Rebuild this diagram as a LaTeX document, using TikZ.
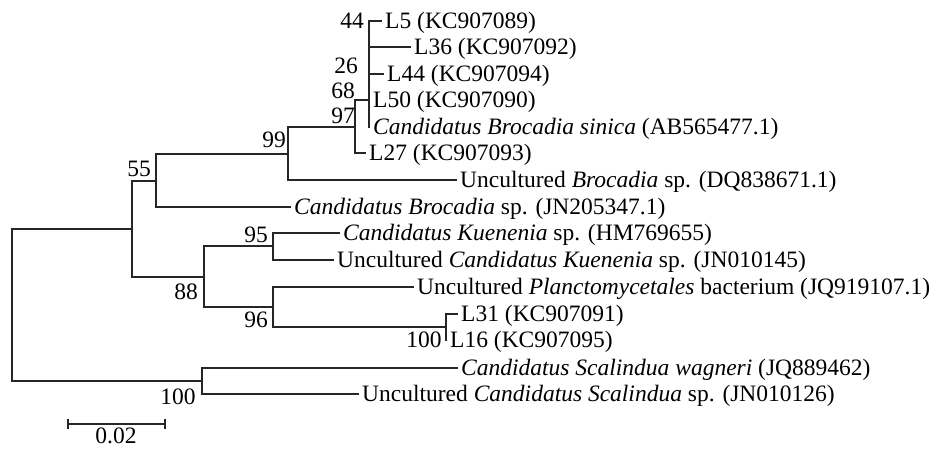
\documentclass[tikz,border=0pt]{standalone}
\usepackage{fontspec}
\setmainfont{Liberation Serif}
\begin{document}
\begin{tikzpicture}[x=1pt,y=-1pt,
  font=\fontsize{23.5}{27}\selectfont,
  branch/.style={draw=black!85, line width=1.2pt, line cap=rect},
  leaf/.style={anchor=base west, inner sep=0pt, xshift=4pt, yshift=-7.8pt},
  boot/.style={anchor=base, inner sep=0pt, yshift=-7.8pt}]
\useasboundingbox (0,0) rectangle (947,448);
% internal nodes
\coordinate (root) at (12,305);
\coordinate (nA) at (132,229);
\coordinate (n55) at (156,181);
\coordinate (n99) at (288,154);
\coordinate (n97) at (355,127);
\coordinate (n68) at (369,100);
\coordinate (n88) at (204,277);
\coordinate (n95) at (273,246);
\coordinate (n96) at (273,307);
\coordinate (n100a) at (446,327);
\coordinate (n100b) at (202,381);
% leaves
\coordinate (l0) at (381,21);
\coordinate (l1) at (410,47);
\coordinate (l2) at (383,74);
\coordinate (l3) at (369,100);
\coordinate (l4) at (369,127);
\coordinate (l5) at (365,153);
\coordinate (l6) at (456,180);
\coordinate (l7) at (290,207);
\coordinate (l8) at (339,233);
\coordinate (l9) at (333,260);
\coordinate (l10) at (413,287);
\coordinate (l11) at (457,314);
\coordinate (l12) at (446,340);
\coordinate (l13) at (457,368);
\coordinate (l14) at (358,394);
% branches
\draw[branch] (root) |- (nA);
\draw[branch] (root) |- (n100b);
\draw[branch] (nA) |- (n55);
\draw[branch] (nA) |- (n88);
\draw[branch] (n55) |- (n99);
\draw[branch] (n55) |- (l7);
\draw[branch] (n99) |- (n97);
\draw[branch] (n99) |- (l6);
\draw[branch] (n97) |- (n68);
\draw[branch] (n97) |- (l5);
\draw[branch] (n68) |- (l0);
\draw[branch] (n68) |- (l1);
\draw[branch] (n68) |- (l2);
\draw[branch] (n68) |- (l4);
\draw[branch] (n88) |- (n95);
\draw[branch] (n88) |- (n96);
\draw[branch] (n95) |- (l8);
\draw[branch] (n95) |- (l9);
\draw[branch] (n96) |- (l10);
\draw[branch] (n96) |- (n100a);
\draw[branch] (n100a) |- (l11);
\draw[branch] (n100a) |- (l12);
\draw[branch] (n100b) |- (l13);
\draw[branch] (n100b) |- (l14);
% leaf labels
\node[leaf] (t0) at (l0) {L5 (KC907089)};
\node[leaf] (t1) at (l1) {L36 (KC907092)};
\node[leaf] (t2) at (l2) {L44 (KC907094)};
\node[leaf] (t3) at (l3) {L50 (KC907090)};
\node[leaf] (t4) at (l4) {\textit{Candidatus Brocadia sinica} (AB565477.1)};
\node[leaf] (t5) at (l5) {L27 (KC907093)};
\node[leaf] (t6) at (l6) {Uncultured \textit{Brocadia} sp. (DQ838671.1)};
\node[leaf] (t7) at (l7) {\textit{Candidatus Brocadia} sp. (JN205347.1)};
\node[leaf] (t8) at (l8) {\textit{Candidatus Kuenenia} sp. (HM769655)};
\node[leaf] (t9) at (l9) {Uncultured \textit{Candidatus Kuenenia} sp. (JN010145)};
\node[leaf] (t10) at (l10) {Uncultured \textit{Planctomycetales} bacterium (JQ919107.1)};
\node[leaf] (t11) at (l11) {L31 (KC907091)};
\node[leaf] (t12) at (l12) {L16 (KC907095)};
\node[leaf] (t13) at (l13) {\textit{Candidatus Scalindua wagneri} (JQ889462)};
\node[leaf] (t14) at (l14) {Uncultured \textit{Candidatus Scalindua} sp. (JN010126)};
% bootstrap values
\node[boot] (b44) at (352,21) {44};
\node[boot] (b26) at (346,66) {26};
\node[boot] (b68) at (343,91) {68};
\node[boot] (b97) at (343,116) {97};
\node[boot] (b99) at (274,140) {99};
\node[boot] (b55) at (139,169) {55};
\node[boot] (b95) at (256,235) {95};
\node[boot] (b88) at (186,292) {88};
\node[boot] (b96) at (256,320) {96};
\node[boot] (b100a) at (424,340) {100};
\node[boot] (b100b) at (178,397) {100};
% scale bar
\coordinate (sL) at (68,424);
\coordinate (sR) at (165,424);
\draw[branch, line cap=butt] (sL) -- (sR);
\draw[branch, line cap=butt] ([yshift=5pt]sL) -- ([yshift=-5pt]sL);
\draw[branch, line cap=butt] ([yshift=5pt]sR) -- ([yshift=-5pt]sR);
\node[boot] (sc) at (116,436) {0.02};
\end{tikzpicture}
\end{document}
